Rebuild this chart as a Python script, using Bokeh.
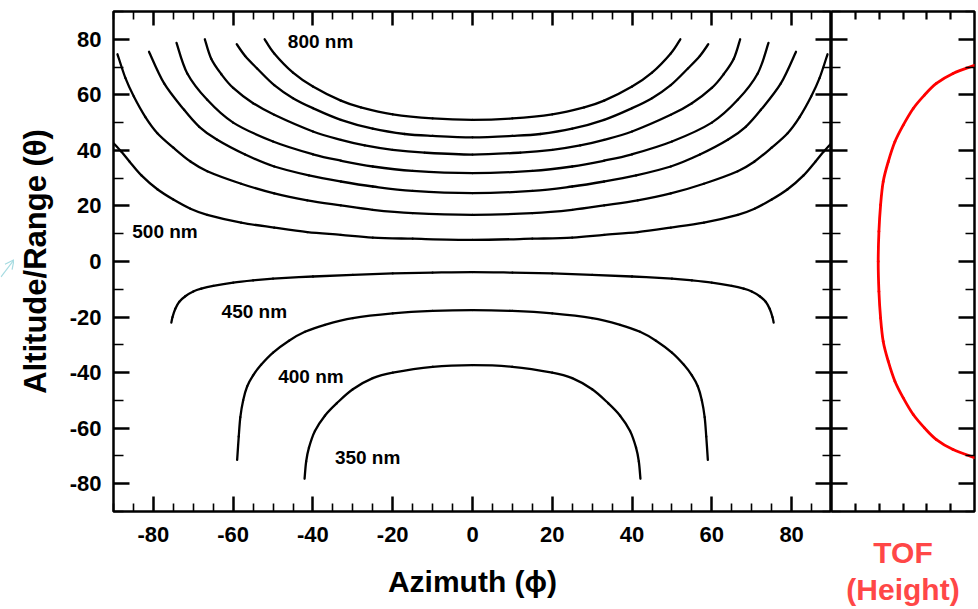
from bokeh.plotting import figure
from bokeh.layouts import row
from bokeh.models import LinearAxis, FixedTicker, Range1d, Label, Arrow, OpenHead, CustomLabelingPolicy
from bokeh.embed import file_html
from bokeh.resources import INLINE

# ---- iso-wavelength curves: azimuth phi (deg) vs altitude/range theta (deg) ----
phi_800 = [-52.1, -49.7, -45, -40, -33, -28, -20, -10, 0, 10, 20, 28, 33, 40, 45, 49.7, 52.1]
th_800 = [80.0, 74.9, 68.0, 63.0, 57.9, 55.5, 53.0, 51.5, 51.0, 51.5, 53.0, 55.5, 57.9, 63.0, 68.0, 74.9, 80.0]

phi_750 = [-59.1, -57, -54, -49.7, -45, -40, -33, -25, -17, -10, 0, 10, 17, 25, 33, 40, 45, 49.7, 54, 57, 59.1]
th_750 = [78.2, 74.0, 69.5, 63.5, 58.8, 55.2, 51.0, 47.8, 45.9, 45.2, 44.7, 45.2, 45.9, 47.8, 51.0, 55.2, 58.8, 63.5, 69.5, 74.0, 78.2]

phi_700 = [-67.1, -65.5, -63, -60, -55, -49.7, -40, -33, -27, -20, -12, 0, 12, 20, 27, 33, 40, 49.7, 55, 60, 63, 65.5, 67.1]
th_700 = [80.0, 73.0, 67.5, 62.5, 57.0, 52.8, 46.8, 43.8, 41.8, 40.2, 39.2, 38.5, 39.2, 40.2, 41.8, 43.8, 46.8, 52.8, 57.0, 62.5, 67.5, 73.0, 80.0]

phi_650 = [-74.2, -71.5, -66.5, -60, -50, -40, -33, -25, -15, 0, 15, 25, 33, 40, 50, 60, 66.5, 71.5, 74.2]
th_650 = [78.7, 67.7, 58.2, 50.0, 43.2, 38.6, 36.3, 34.2, 32.6, 31.8, 32.6, 34.2, 36.3, 38.6, 43.2, 50.0, 58.2, 67.7, 78.7]

phi_600 = [-81.1, -77.3, -72.3, -68.5, -64, -57, -49.7, -41, -33, -25, -15, 0, 15, 25, 33, 41, 49.7, 57, 64, 68.5, 72.3, 77.3, 81.1]
th_600 = [75.5, 64.1, 54.6, 48.5, 43.8, 38.5, 34.2, 31.0, 28.8, 27.0, 25.4, 24.6, 25.4, 27.0, 28.8, 31.0, 34.2, 38.5, 43.8, 48.5, 54.6, 64.1, 75.5]

phi_550 = [-89, -87, -84.9, -82, -79, -75, -70.7, -66.5, -58, -49.7, -41.4, -33, -25, -15, 0,
           15, 25, 33, 41.4, 49.7, 58, 66.5, 70.7, 75, 79, 82, 84.9, 87, 89]
th_550 = [74.6, 66.0, 59.4, 52.0, 46.2, 41.0, 36.0, 32.5, 28.0, 24.5, 22.0, 20.2, 18.6, 17.4, 16.8,
          17.4, 18.6, 20.2, 22.0, 24.5, 28.0, 32.5, 36.0, 41.0, 46.2, 52.0, 59.4, 66.0, 74.6]

phi_500 = [-90, -88, -86, -83, -79, -75, -70.7, -66.5, -58, -49.7, -41.4, -33, -25, -15, 0,
           15, 25, 33, 41.4, 49.7, 58, 66.5, 70.7, 75, 79, 83, 86, 88, 90]
th_500 = [42.6, 39.5, 36.0, 31.0, 26.0, 22.3, 19.0, 16.8, 14.0, 12.2, 10.6, 9.6, 8.6, 8.2, 7.8,
          8.2, 8.6, 9.6, 10.6, 12.2, 14.0, 16.8, 19.0, 22.3, 26.0, 31.0, 36.0, 39.5, 42.6]

phi_450 = [-75.5, -75.2, -74.5, -73.5, -72, -70, -68, -65, -60, -55, -50, -40, -30, -20, -10, 0,
           10, 20, 30, 40, 50, 55, 60, 65, 68, 70, 72, 73.5, 74.5, 75.2, 75.5]
th_450 = [-22.0, -20.0, -17.0, -14.5, -12.5, -10.8, -9.8, -8.8, -7.6, -6.8, -6.2, -5.4, -4.8, -4.3, -4.0, -3.8,
          -4.0, -4.3, -4.8, -5.4, -6.2, -6.8, -7.6, -8.8, -9.8, -10.8, -12.5, -14.5, -17.0, -20.0, -22.0]

phi_400 = [-59.0, -58.6, -58.2, -57.5, -56.5, -55, -53, -50, -46, -42, -37, -30, -20, -10, 0,
           10, 20, 30, 37, 42, 46, 50, 53, 55, 56.5, 57.5, 58.2, 58.6, 59.0]
th_400 = [-71.4, -63.0, -56.0, -50.0, -45.0, -41.0, -37.2, -32.8, -28.5, -25.3, -22.8, -20.4, -18.7, -17.8, -17.5,
          -17.8, -18.7, -20.4, -22.8, -25.3, -28.5, -32.8, -37.2, -41.0, -45.0, -50.0, -56.0, -63.0, -71.4]

phi_350 = [-42.1, -41.7, -41.0, -39.5, -37, -34, -30, -25, -20, -10, 0,
           10, 20, 25, 30, 34, 37, 39.5, 41.0, 41.7, 42.1]
th_350 = [-78.2, -72.0, -67.0, -61.0, -55.5, -51.0, -46.0, -42.0, -40.0, -37.9, -37.3,
          -37.9, -40.0, -42.0, -46.0, -51.0, -55.5, -61.0, -67.0, -72.0, -78.2]

curves = [
    (phi_800, th_800), (phi_750, th_750), (phi_700, th_700), (phi_650, th_650),
    (phi_600, th_600), (phi_550, th_550), (phi_500, th_500), (phi_450, th_450),
    (phi_400, th_400), (phi_350, th_350),
]

# curve annotations: (text, azimuth of left edge, altitude of centre)
curve_labels = [
    ("800 nm", -46.3, 79.1),
    ("500 nm", -85.3, 10.7),
    ("450 nm", -62.9, -18.1),
    ("400 nm", -48.7, -41.5),
    ("350 nm", -34.5, -70.4),
]

# ---- time-of-flight side panel: altitude (deg) vs TOF ----
tof_theta = [70.6, 67.7, 64.1, 59.9, 55.1, 49.1, 43.1, 35.9, 28.8, 20.4, 10.8, 0.0,
             -10.8, -20.4, -28.8, -35.9, -43.1, -49.1, -55.1, -59.9, -64.1, -67.7, -70.6]
tof_value = [6.0, 5.1, 4.4, 3.9, 3.43, 3.01, 2.66, 2.38, 2.17, 2.06, 1.99, 1.96,
             1.99, 2.06, 2.17, 2.38, 2.66, 3.01, 3.43, 3.9, 4.4, 5.1, 6.0]

# ---- ticks ----
x_major = [-80, -60, -40, -20, 0, 20, 40, 60, 80]
x_minor = [-90, -85, -75, -70, -65, -55, -50, -45, -35, -30, -25, -15, -10, -5,
           5, 10, 15, 25, 30, 35, 45, 50, 55, 65, 70, 75, 85, 90]
y_major = [-80, -60, -40, -20, 0, 20, 40, 60, 80]
y_minor = [-90, -70, -50, -30, -10, 10, 30, 50, 70, 90]
tof_ticks = [1, 2, 3, 4, 5]

# small pointer in the left margin (strip pixels across, altitude units up)
pointer_start = (0.5, -5.5)
pointer_end = (13.5, 0.6)

FONT = "Liberation Sans"
H = 609
BORDERS_Y = dict(min_border_top=11, min_border_bottom=96)


def no_labels():
    return CustomLabelingPolicy(code="for (const i of indices) { indices.unset(i) } return indices")


def style_axis(ax, major_in, minor_in, labels=True):
    ax.axis_line_color = None
    ax.major_tick_out = 0
    ax.minor_tick_out = 0
    ax.major_tick_in = major_in
    ax.minor_tick_in = minor_in
    ax.major_tick_line_width = 2.5
    ax.minor_tick_line_width = 1.6
    ax.major_tick_line_color = "black"
    ax.minor_tick_line_color = "black"
    if labels:
        ax.major_label_text_font = FONT
        ax.major_label_text_font_style = "bold"
        ax.major_label_text_font_size = "22px"
        ax.major_label_text_color = "black"
        # plain hyphen for negative values
        ax.major_label_overrides = {t: str(t) for t in x_major}
    else:
        ax.major_label_policy = no_labels()
        ax.major_label_text_font_size = "0px"
        ax.major_label_standoff = 0


def smooth_segments(xs, ys):
    """Cubic Bezier pieces through the given points (Catmull-Rom tangents)."""
    n = len(xs)
    out = dict(x0=[], y0=[], x1=[], y1=[], cx0=[], cy0=[], cx1=[], cy1=[])
    for i in range(n - 1):
        xa, ya, xb, yb = xs[i], ys[i], xs[i + 1], ys[i + 1]
        xp, yp = (xs[i - 1], ys[i - 1]) if i > 0 else (xa, ya)
        xn, yn = (xs[i + 2], ys[i + 2]) if i + 2 < n else (xb, yb)
        out["x0"].append(xa); out["y0"].append(ya)
        out["x1"].append(xb); out["y1"].append(yb)
        out["cx0"].append(xa + (xb - xp) / 6.0); out["cy0"].append(ya + (yb - yp) / 6.0)
        out["cx1"].append(xb - (xn - xa) / 6.0); out["cy1"].append(yb - (yn - ya) / 6.0)
    return out


def base_figure(width, x_range, **borders):
    f = figure(width=width, height=H, x_range=x_range, y_range=Range1d(-90, 90),
               output_backend="svg", toolbar_location=None,
               x_axis_location=None, y_axis_location=None, **BORDERS_Y, **borders)
    f.outline_line_color = "black"
    f.outline_line_width = 2.5
    f.background_fill_color = "white"
    f.border_fill_color = "white"
    f.xgrid.visible = False
    f.ygrid.visible = False
    return f


# ---- margin strip with the pointer ----
m = base_figure(14, Range1d(0, 14), min_border_left=0, min_border_right=0)
m.outline_line_color = None
m.add_layout(Arrow(x_start=pointer_start[0], y_start=pointer_start[1],
                   x_end=pointer_end[0], y_end=pointer_end[1],
                   line_color="#a6dbe1", line_width=1.2,
                   end=OpenHead(size=9, line_color="#a6dbe1", line_width=1.2)))

# ---- main panel ----
p = base_figure(817, Range1d(-90, 90), min_border_left=99, min_border_right=0)

xt = FixedTicker(ticks=x_major, minor_ticks=x_minor)
yt = FixedTicker(ticks=y_major, minor_ticks=y_minor)

bottom = LinearAxis(ticker=xt, axis_label="Azimuth (ϕ)")
style_axis(bottom, 15, 8)
bottom.major_label_standoff = 15
bottom.axis_label_standoff = 20
bottom.axis_label_text_font = FONT
bottom.axis_label_text_font_style = "bold"
bottom.axis_label_text_font_size = "30px"
bottom.axis_label_text_color = "black"
p.add_layout(bottom, "below")

top = LinearAxis(ticker=xt)
style_axis(top, 14, 8, labels=False)
p.add_layout(top, "above")

left = LinearAxis(ticker=yt, axis_label="Altitude/Range (θ)")
style_axis(left, 16, 10)
left.major_label_standoff = 12
left.axis_label_standoff = 14
left.axis_label_text_font = FONT
left.axis_label_text_font_style = "bold"
left.axis_label_text_font_size = "31px"
left.axis_label_text_color = "black"
p.add_layout(left, "left")

right = LinearAxis(ticker=yt)
style_axis(right, 16, 9, labels=False)
p.add_layout(right, "right")

for xs, ys in curves:
    p.bezier(line_color="black", line_width=2.3, line_cap="round", **smooth_segments(xs, ys))

for txt, x, y in curve_labels:
    p.add_layout(Label(x=x, y=y, text=txt, text_font=FONT, text_font_style="bold",
                       text_font_size="19px", text_color="black",
                       text_align="left", text_baseline="middle"))

# ---- TOF panel ----
q = base_figure(147, Range1d(0, 6), min_border_left=0, min_border_right=4)

tt = FixedTicker(ticks=tof_ticks, minor_ticks=[])
q_bottom = LinearAxis(ticker=tt, axis_label="TOF\n(Height)")
style_axis(q_bottom, 8, 0, labels=False)
q_bottom.major_tick_line_width = 2.2
q_bottom.axis_label_standoff = 24
q_bottom.axis_label_text_font = FONT
q_bottom.axis_label_text_font_style = "bold"
q_bottom.axis_label_text_font_size = "30px"
q_bottom.axis_label_text_color = "#ff4747"
q_bottom.axis_label_text_align = "center"
q_bottom.axis_label_text_line_height = 1.15
q.add_layout(q_bottom, "below")

q_top = LinearAxis(ticker=tt)
style_axis(q_top, 8, 0, labels=False)
q_top.major_tick_line_width = 2.2
q.add_layout(q_top, "above")

for loc in ("left", "right"):
    ax = LinearAxis(ticker=yt)
    style_axis(ax, 16, 9, labels=False)
    q.add_layout(ax, loc)

q.bezier(line_color="red", line_width=2.8, line_cap="round", **smooth_segments(tof_value, tof_theta))

layout = row(m, p, q, spacing=0)
open("out.html", "w").write(file_html(layout, INLINE))
